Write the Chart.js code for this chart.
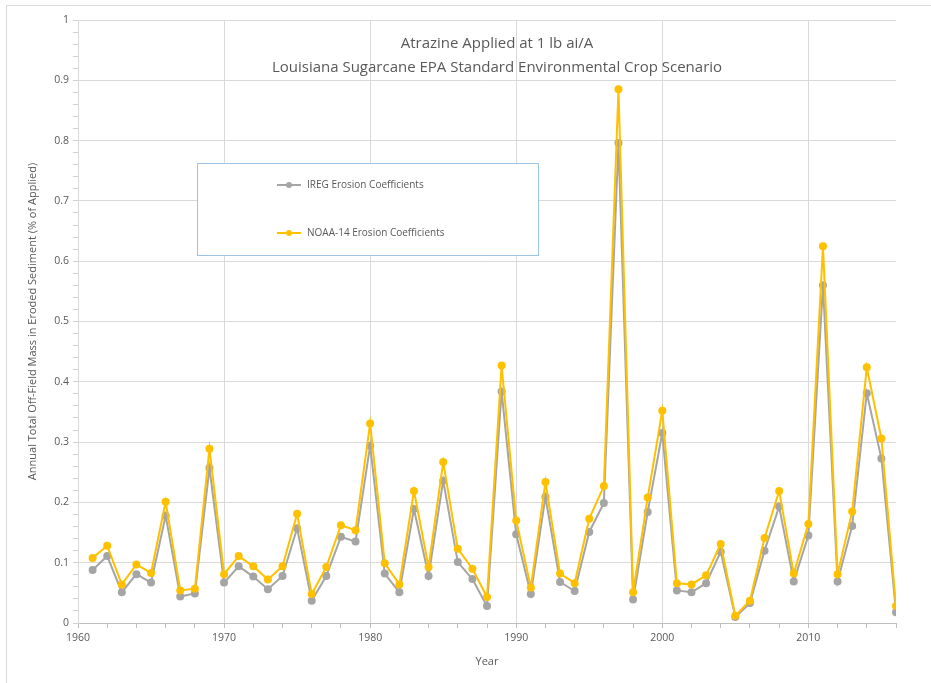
<!DOCTYPE html>
<html>
<head>
<meta charset="utf-8">
<script src="https://cdn.jsdelivr.net/npm/chart.js@4"></script>
<style>
  body { margin: 0; background: #fff; }
  #wrap { position: relative; width: 931px; height: 683px; overflow: hidden; }
  #frame { position: absolute; left: 6px; top: 5px; width: 1000px; height: 1000px; border: 1px solid #d9d9d9; }
  #chart { position: absolute; left: 0; top: 0; }
</style>
</head>
<body>
<div id="wrap">
  <div id="frame"></div>
  <canvas id="chart" width="931" height="683"></canvas>
</div>
<script>
const years = [];
for (let y = 1961; y <= 2016; y++) years.push(y);

const decadeTicks = [1960, 1970, 1980, 1990, 2000, 2010];

const iregValues = [
  0.088, 0.111, 0.051, 0.081, 0.067, 0.178, 0.044, 0.049, 0.257, 0.067,
  0.094, 0.077, 0.056, 0.078, 0.157, 0.037, 0.078, 0.143, 0.135, 0.294,
  0.082, 0.051, 0.189, 0.078, 0.236, 0.101, 0.073, 0.028, 0.384, 0.147,
  0.048, 0.209, 0.068, 0.053, 0.151, 0.199, 0.796, 0.039, 0.184, 0.315,
  0.054, 0.051, 0.066, 0.118, 0.010, 0.033, 0.120, 0.193, 0.069, 0.145,
  0.560, 0.069, 0.161, 0.381, 0.273, 0.018
];

const noaaValues = [
  0.108, 0.128, 0.064, 0.097, 0.083, 0.201, 0.054, 0.057, 0.289, 0.081,
  0.111, 0.094, 0.072, 0.094, 0.181, 0.048, 0.093, 0.162, 0.154, 0.331,
  0.099, 0.064, 0.219, 0.093, 0.267, 0.123, 0.090, 0.043, 0.427, 0.170,
  0.059, 0.234, 0.082, 0.066, 0.173, 0.227, 0.885, 0.051, 0.208, 0.352,
  0.066, 0.064, 0.079, 0.131, 0.012, 0.037, 0.141, 0.219, 0.082, 0.164,
  0.625, 0.081, 0.185, 0.424, 0.306, 0.028
];

const seriesNames = ['IREG Erosion Coefficients', 'NOAA-14 Erosion Coefficients'];
const titleLines = ['Atrazine Applied at 1 lb ai/A', 'Louisiana Sugarcane EPA Standard Environmental Crop Scenario'];

const GRAY = '#a5a5a5';
const GOLD = '#ffc000';
const TEXT = '#595959';
const NONE = 'rgba(0,0,0,0)';

const toPoints = vals => vals.map((v, i) => ({ x: years[i], y: v }));

// title + legend box sit inside the plot area
const overlayPlugin = {
  id: 'overlay',
  afterDraw(chart) {
    const ctx = chart.ctx;
    ctx.save();
    ctx.fillStyle = TEXT;
    ctx.font = '15px "Open Sans"';
    ctx.textAlign = 'center';
    ctx.textBaseline = 'middle';
    ctx.fillText(titleLines[0], 497, 44);
    ctx.fillText(titleLines[1], 497, 68);

    ctx.fillStyle = '#fff';
    ctx.fillRect(197, 163, 341, 92);
    ctx.strokeStyle = '#9dc3e6';
    ctx.lineWidth = 1;
    ctx.strokeRect(197.5, 163.5, 341, 92);

    const rows = [[seriesNames[0], GRAY, 185], [seriesNames[1], GOLD, 233]];
    ctx.font = '10px "Open Sans"';
    ctx.textAlign = 'left';
    rows.forEach(([label, color, y]) => {
      ctx.strokeStyle = color;
      ctx.lineWidth = 2;
      ctx.beginPath();
      ctx.moveTo(277, y);
      ctx.lineTo(301, y);
      ctx.stroke();
      ctx.fillStyle = color;
      ctx.beginPath();
      ctx.arc(289, y, 3, 0, Math.PI * 2);
      ctx.fill();
      ctx.fillStyle = TEXT;
      ctx.fillText(label, 307, y);
    });
    ctx.restore();
  }
};

new Chart(document.getElementById('chart'), {
  type: 'line',
  data: {
    datasets: [
      { label: seriesNames[0], data: toPoints(iregValues), borderColor: GRAY, backgroundColor: GRAY,
        borderWidth: 2, pointRadius: 4, pointBorderWidth: 0, order: 2 },
      { label: seriesNames[1], data: toPoints(noaaValues), borderColor: GOLD, backgroundColor: GOLD,
        borderWidth: 2, pointRadius: 4, pointBorderWidth: 0, order: 1 }
    ]
  },
  options: {
    responsive: false,
    animation: false,
    layout: { padding: { top: 20, right: 35, left: 0, bottom: 0 } },
    plugins: { legend: { display: false }, title: { display: false }, tooltip: { enabled: false } },
    scales: {
      x: {
        type: 'linear', min: 1960, max: 2016,
        afterFit: s => { s.height = 60; },
        ticks: { stepSize: 2, autoSkip: false, maxRotation: 0, padding: 4, color: TEXT,
          font: { family: 'Open Sans', size: 10.5 },
          callback: v => (decadeTicks.includes(v) ? String(v) : '') },
        grid: { tickLength: 5,
          color: c => (c.type === 'tick' && decadeTicks.includes(c.tick.value) ? '#d9d9d9' : NONE),
          tickColor: '#bfbfbf' },
        border: { color: '#bfbfbf' },
        title: { display: true, text: 'Year', color: TEXT, font: { family: 'Open Sans', size: 11 },
          padding: { top: 0, bottom: 15 } }
      },
      y: {
        min: 0, max: 1,
        afterFit: s => { s.width = 78; },
        ticks: { stepSize: 0.02, autoSkip: false, padding: 4, color: TEXT,
          font: { family: 'Open Sans', size: 10.5 },
          callback: v => { const r = Math.round(v * 100); return r % 10 === 0 ? String(r / 100) : ''; } },
        grid: { tickLength: 5,
          color: c => (c.type === 'tick' && Math.round(c.tick.value * 100) % 10 === 0 ? '#d9d9d9' : NONE),
          tickColor: '#d0d0d0' },
        border: { color: '#d9d9d9' },
        title: { display: true, text: 'Annual Total Off-Field Mass in Eroded Sediment (% of Applied)',
          color: TEXT, font: { family: 'Open Sans', size: 11 }, padding: { top: 26, bottom: 0 } }
      }
    }
  },
  plugins: [overlayPlugin]
});
</script>
</body>
</html>
